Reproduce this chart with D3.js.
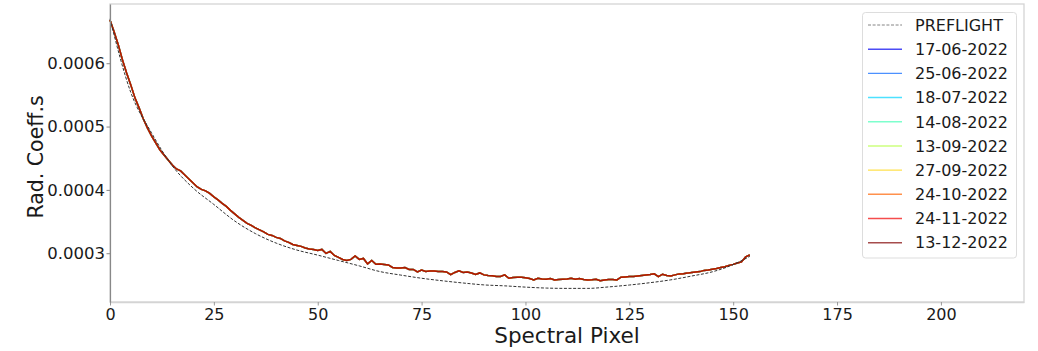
<!DOCTYPE html>
<html>
<head>
<meta charset="utf-8">
<script src="https://cdn.jsdelivr.net/npm/d3@7"></script>
<style>
  body { margin: 0; background: #fff; }
  text { font-family: "DejaVu Sans", sans-serif; fill: #1a1a1a; }
</style>
</head>
<body>
<div id="chart"></div>
<script>
// spectral pixel axis
let pixelTicks = [0, 25, 50, 75, 100, 125, 150, 175, 200];
let coeffTicks = [0.0003, 0.0004, 0.0005, 0.0006];

let dates = ["17-06-2022", "25-06-2022", "18-07-2022", "14-08-2022", "13-09-2022",
             "27-09-2022", "24-10-2022", "24-11-2022", "13-12-2022"];
let dateColors = ["#0000f1", "#0063ff", "#00d4ff", "#47ffb8", "#b8ff47",
                  "#ffd400", "#ff6300", "#f10000", "#800000"];

// measured coefficients, pixels 0..154 (all dates lie on top of each other)
let measured = [
  6.684e-4, 6.495e-4, 6.289e-4, 6.053e-4, 5.847e-4, 5.658e-4, 5.453e-4, 5.295e-4, 5.122e-4, 4.979e-4,
  4.853e-4, 4.742e-4, 4.631e-4, 4.552e-4, 4.473e-4, 4.394e-4, 4.331e-4, 4.300e-4, 4.236e-4, 4.173e-4,
  4.110e-4, 4.047e-4, 4.008e-4, 3.984e-4, 3.944e-4, 3.889e-4, 3.842e-4, 3.787e-4, 3.739e-4, 3.676e-4,
  3.621e-4, 3.565e-4, 3.518e-4, 3.471e-4, 3.439e-4, 3.400e-4, 3.368e-4, 3.336e-4, 3.297e-4, 3.281e-4,
  3.250e-4, 3.234e-4, 3.194e-4, 3.171e-4, 3.139e-4, 3.123e-4, 3.108e-4, 3.084e-4, 3.068e-4, 3.060e-4,
  3.044e-4, 3.060e-4, 2.997e-4, 3.029e-4, 2.965e-4, 2.934e-4, 2.902e-4, 2.886e-4, 2.902e-4, 2.958e-4,
  2.902e-4, 2.918e-4, 2.831e-4, 2.886e-4, 2.826e-4, 2.831e-4, 2.823e-4, 2.815e-4, 2.776e-4, 2.768e-4,
  2.768e-4, 2.773e-4, 2.744e-4, 2.744e-4, 2.705e-4, 2.736e-4, 2.713e-4, 2.721e-4, 2.721e-4, 2.713e-4,
  2.710e-4, 2.705e-4, 2.661e-4, 2.697e-4, 2.721e-4, 2.697e-4, 2.705e-4, 2.689e-4, 2.665e-4, 2.689e-4,
  2.658e-4, 2.650e-4, 2.645e-4, 2.634e-4, 2.634e-4, 2.658e-4, 2.605e-4, 2.618e-4, 2.621e-4, 2.621e-4,
  2.613e-4, 2.602e-4, 2.579e-4, 2.605e-4, 2.594e-4, 2.590e-4, 2.602e-4, 2.579e-4, 2.586e-4, 2.590e-4,
  2.594e-4, 2.605e-4, 2.590e-4, 2.602e-4, 2.586e-4, 2.579e-4, 2.582e-4, 2.590e-4, 2.567e-4, 2.579e-4,
  2.586e-4, 2.586e-4, 2.579e-4, 2.621e-4, 2.626e-4, 2.631e-4, 2.634e-4, 2.642e-4, 2.650e-4, 2.658e-4,
  2.665e-4, 2.674e-4, 2.631e-4, 2.669e-4, 2.650e-4, 2.642e-4, 2.658e-4, 2.674e-4, 2.677e-4, 2.686e-4,
  2.697e-4, 2.705e-4, 2.710e-4, 2.729e-4, 2.736e-4, 2.748e-4, 2.760e-4, 2.776e-4, 2.787e-4, 2.808e-4,
  2.824e-4, 2.847e-4, 2.863e-4, 2.942e-4, 2.973e-4
];

// preflight reference curve, read every 5 pixels
let preflightPix = [0, 5, 10, 15, 20, 25, 30, 35, 40, 45, 50, 55, 60, 65, 70, 75, 80,
                    85, 90, 95, 100, 105, 110, 115, 120, 125, 130, 135, 140, 145, 150, 154];
let preflight = [6.70e-4, 5.54e-4, 4.90e-4, 4.38e-4, 4.03e-4, 3.77e-4, 3.51e-4, 3.31e-4, 3.16e-4,
                 3.05e-4, 2.97e-4, 2.885e-4, 2.80e-4, 2.71e-4, 2.655e-4, 2.605e-4, 2.565e-4, 2.53e-4,
                 2.50e-4, 2.485e-4, 2.465e-4, 2.45e-4, 2.445e-4, 2.445e-4, 2.468e-4, 2.498e-4,
                 2.535e-4, 2.58e-4, 2.64e-4, 2.707e-4, 2.82e-4, 2.95e-4];

let width = 1038;
let height = 351;
let plotL = 110, plotR = 1024, plotT = 4, plotB = 302;

let svg = d3.select("#chart").append("svg")
    .attr("width", width)
    .attr("height", height);

let xScale = d3.scaleLinear().domain([0, 220]).range([plotL, plotR]);
let yScale = d3.scaleLinear().domain([0.000223, 0.0006935]).range([plotB, plotT]);

// frame
svg.append("rect")
    .attr("x", plotL).attr("y", plotT)
    .attr("width", plotR - plotL).attr("height", plotB - plotT)
    .attr("fill", "none").attr("stroke", "#d4d4d4").attr("stroke-width", 1.3);

// measured lines
let line = d3.line()
    .x((d, i) => xScale(i))
    .y(d => yScale(d));

dates.forEach((d, k) => {
    svg.append("path")
        .datum(measured)
        .attr("d", line)
        .attr("fill", "none")
        .attr("stroke", dateColors[k])
        .attr("stroke-opacity", 0.6)
        .attr("stroke-width", 1.5);
});

// preflight dashed
let preLine = d3.line()
    .x((d, i) => xScale(preflightPix[i]))
    .y(d => yScale(d))
    .curve(d3.curveMonotoneX);

svg.append("path")
    .datum(preflight)
    .attr("d", preLine)
    .attr("fill", "none")
    .attr("stroke", "#333")
    .attr("stroke-width", 1)
    .attr("stroke-dasharray", "3,1.6");

// axes
let xAxis = svg.append("g")
    .attr("transform", "translate(0," + plotB + ")")
    .call(d3.axisBottom(xScale).tickValues(pixelTicks).tickSize(3.5).tickSizeOuter(0).tickPadding(3.5));
xAxis.select(".domain").attr("stroke", "#d4d4d4").attr("stroke-width", 1.3);
xAxis.selectAll(".tick line").attr("stroke", "#999");
xAxis.selectAll(".tick text").style("font-size", "16px").attr("fill", "#1a1a1a");

let yAxis = svg.append("g")
    .attr("transform", "translate(" + plotL + ",0)")
    .call(d3.axisLeft(yScale).tickValues(coeffTicks).tickFormat(d3.format(".4f"))
        .tickSize(3.5).tickSizeOuter(0).tickPadding(1.5));
yAxis.select(".domain").attr("stroke", "#888").attr("stroke-width", 1.2);
yAxis.selectAll(".tick line").attr("stroke", "#888");
yAxis.selectAll(".tick text").style("font-size", "16.5px").attr("fill", "#1a1a1a");

// axis titles
svg.append("text")
    .attr("x", (plotL + plotR) / 2).attr("y", 343)
    .attr("text-anchor", "middle")
    .style("font-size", "21.5px")
    .text("Spectral Pixel");

svg.append("text")
    .attr("transform", "translate(43," + ((plotT + plotB) / 2 + 4) + ") rotate(-90)")
    .attr("text-anchor", "middle")
    .style("font-size", "20.5px")
    .text("Rad. Coeff.s");

// legend
let legend = svg.append("g");
legend.append("rect")
    .attr("x", 862.5).attr("y", 12.5)
    .attr("width", 154).attr("height", 245.5)
    .attr("rx", 3)
    .attr("fill", "#fff").attr("fill-opacity", 0.8)
    .attr("stroke", "#ddd");

let rowY = d3.scaleLinear().domain([0, 9]).range([25, 242.7]);
let labels = ["PREFLIGHT"].concat(dates);

labels.forEach((name, k) => {
    let y = rowY(k);
    let ln = legend.append("line")
        .attr("x1", 868).attr("x2", 902)
        .attr("y1", y).attr("y2", y);
    if (k === 0) {
        ln.attr("stroke", "#333").attr("stroke-width", 1).attr("stroke-dasharray", "3,1.6")
          .attr("stroke-opacity", 0.6);
    } else {
        ln.attr("stroke", dateColors[k - 1]).attr("stroke-opacity", 0.7).attr("stroke-width", 1.4);
    }
    legend.append("text")
        .attr("x", 915).attr("y", y)
        .attr("dy", "0.36em")
        .style("font-size", "16px")
        .text(name);
});
</script>
</body>
</html>
